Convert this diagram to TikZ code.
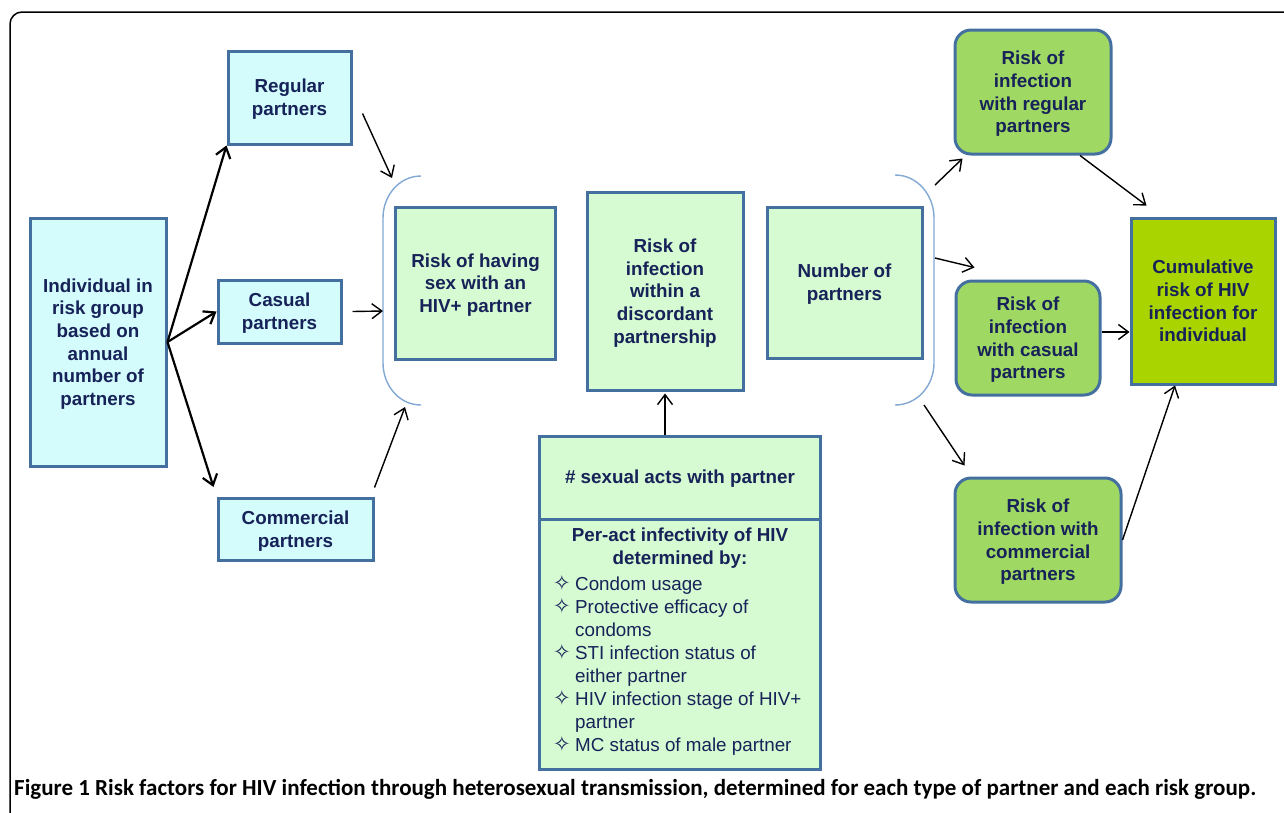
\documentclass[tikz,border=0pt]{standalone}
\usepackage{fontspec}
\setmainfont{Liberation Sans}
\newfontfamily\capfont{Carlito}
\newfontfamily\symfont{DejaVu Sans}
\usetikzlibrary{arrows.meta,calc}
\definecolor{bordc}{RGB}{68,112,160}
\definecolor{txt}{RGB}{22,34,88}
\definecolor{cyanf}{RGB}{212,252,252}
\definecolor{greenf}{RGB}{214,250,210}
\definecolor{roundf}{RGB}{160,216,100}
\definecolor{cumf}{RGB}{170,212,0}
\definecolor{brk}{RGB}{130,168,212}
\newcommand{\dia}{\makebox[22pt][l]{\symfont\fontsize{21}{21}\selectfont ✧}}
\newcommand{\nodia}{\makebox[22pt][l]{}}
\begin{document}
\begin{tikzpicture}[x=1pt,y=-1pt,
  base/.style={draw=bordc, line width=3pt, text=txt, font=\bfseries\fontsize{18.8}{22.7}\selectfont, align=center, inner sep=0pt, text depth=0pt},
  cyanbox/.style={base, fill=cyanf},
  greenbox/.style={base, fill=greenf},
  roundbox/.style={base, fill=roundf, rounded corners=16pt},
  cumbox/.style={base, fill=cumf},
  arr/.style={-{Straight Barb[length=10pt,width=15pt]}, line width=1.4pt, black},
  tarr/.style={arr, line width=2.2pt},
  bracket/.style={draw=brk, line width=1.4pt},
  plain/.style={text=txt, inner sep=0pt}
]
\clip (0,0) rectangle (1284,812);
\fill[white] (0,0) rectangle (1284,812);
% frame
\draw[line width=1.5pt, rounded corners=12pt] (10,840) -- (10,12) -- (1310,12);

% left column
\node[cyanbox, minimum width=136pt, minimum height=248pt] (ind) at (98,342)
  {Individual in\\risk group\\based on\\annual\\number of\\partners};
\node[cyanbox, minimum width=123pt, minimum height=93pt] (reg) at (289.5,97.5) {Regular\\partners};
\node[cyanbox, minimum width=123pt, minimum height=63pt] (cas) at (279.5,311.5) {Casual\\partners};
\node[cyanbox, minimum width=155pt, minimum height=62pt] (com) at (295.5,529) {Commercial\\partners};

% middle
\node[greenbox, minimum width=160pt, minimum height=152pt] (hav) at (475.5,283) {Risk of having\\sex with an\\HIV+ partner};
\node[greenbox, minimum width=156pt, minimum height=198pt] (disc) at (665,291) {Risk of\\infection\\within a\\discordant\\partnership};
\node[greenbox, minimum width=155pt, minimum height=151pt] (num) at (844.5,282.5) {Number of\\partners};

% bottom box
\node[greenbox, minimum width=281pt, minimum height=333pt] (bot) at (679.5,602.5) {};
\draw[bordc, line width=3pt] (bot.west |- 0,519) coordinate (dl) -- (bot.east |- 0,519) coordinate (dr);
\node[plain, font=\bfseries\fontsize{18.8}{22.7}\selectfont] (acts) at (680,479) {\# sexual acts with partner};
\node[plain, font=\bfseries\fontsize{18.8}{22.7}\selectfont, align=center] (per) at (680,548) {Per-act infectivity of HIV\\determined by:};
\node[plain, font=\fontsize{18.8}{23}\selectfont, align=left, anchor=north west] (list) at (553,575)
  {\dia Condom usage\\
   \dia Protective efficacy of\\
   \nodia condoms\\
   \dia STI infection status of\\
   \nodia either partner\\
   \dia HIV infection stage of HIV+\\
   \nodia partner\\
   \dia MC status of male partner};

% right column
\node[roundbox, minimum width=156pt, minimum height=124pt] (rreg) at (1033,92) {Risk of\\infection\\with regular\\partners};
\node[roundbox, minimum width=144pt, minimum height=114pt] (rcas) at (1028,338) {Risk of\\infection\\with casual\\partners};
\node[roundbox, minimum width=166pt, minimum height=124pt] (rcom) at (1038,540) {Risk of\\infection with\\commercial\\partners};
\node[cumbox, minimum width=144pt, minimum height=166pt] (cum) at (1203,301) {Cumulative\\risk of HIV\\infection for\\individual};

% brackets
\coordinate (lbt) at (421,176);
\coordinate (lbb) at (421,405);
\draw[bracket] (lbt) to[out=180,in=90] (383,218) -- (383,363) to[out=-90,in=180] (lbb);
\coordinate (rbt) at (895,175);
\coordinate (rbb) at (895,405);
\draw[bracket] (rbt) to[out=0,in=90] (934,218) -- (934,363) to[out=-90,in=0] (rbb);

% arrows left
\draw[tarr] (ind.east) -- (reg.south west);
\draw[tarr] (ind.east) -- (cas.west);
\draw[tarr, shorten >=10pt] (ind.east) -- (com.north west);

\coordinate (lb1) at (392,178);
\coordinate (lb2) at (383,311);
\coordinate (lb3) at (405,407);
\draw[arr] ([xshift=10pt,yshift=-16pt]reg.east) -- (lb1);
\draw[arr] ([xshift=10pt]cas.east) -- (lb2);
\draw[arr] ([yshift=9pt]com.north east) -- (lb3);

\draw[arr] (disc.south |- bot.north) -- ([yshift=-2pt]disc.south);

% arrows right
\coordinate (rb1) at (935,185);
\coordinate (rb2) at (935,258);
\coordinate (rb3) at (924,405);
\draw[arr] (rb1) -- ([xshift=9pt,yshift=-3pt]rreg.south west);
\draw[arr] (rb2) -- ([xshift=20pt,yshift=12pt]rcas.north west);
\draw[arr] (rb3) -- ([xshift=11pt,yshift=11pt]rcom.north west);

\draw[arr] ([xshift=47pt]rreg.south) -- ([xshift=17pt,yshift=11pt]cum.north west);
\draw[arr] ([yshift=6pt]rcas.east) -- ([yshift=6pt]cum.west |- rcas.east);
\draw[arr] (rcom.east) -- ([xshift=-28pt]cum.south);

% caption
\node[anchor=west, inner sep=0pt] (cap) at (14,789)
  {\resizebox{1242pt}{!}{\capfont\bfseries\fontsize{21}{24}\selectfont Figure 1 Risk factors for HIV infection through heterosexual transmission, determined for each type of partner and each risk group.}};
\end{tikzpicture}
\end{document}
